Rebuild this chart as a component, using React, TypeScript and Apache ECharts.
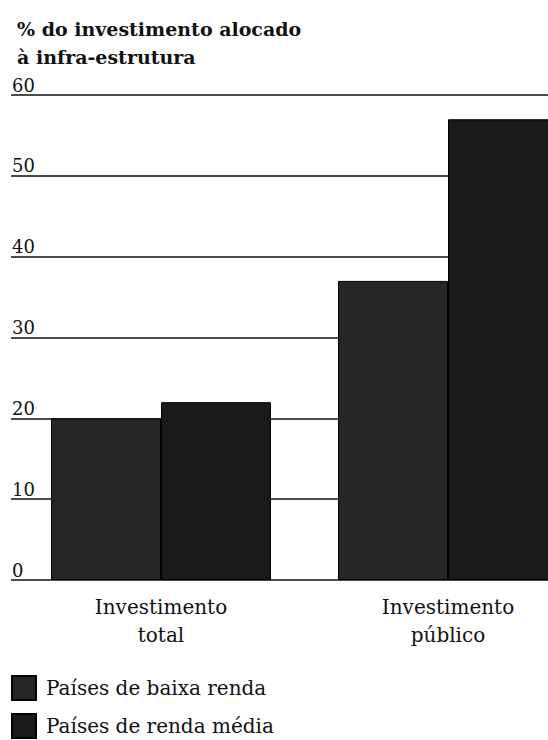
import React, { useEffect, useRef } from "react";
import * as echarts from "echarts";

// Share of investment allocated to infrastructure (%)
const categories = ["Investimento\ntotal", "Investimento\npúblico"];
const seriesNames = ["Países de baixa renda", "Países de renda média"];
const lowIncome = [20, 37];
const middleIncome = [22, 57];
const yTicks = [0, 10, 20, 30, 40, 50, 60];
const titleLines = ["% do investimento alocado", "à infra-estrutura"];

const FONT = "'DejaVu Serif', 'Liberation Serif', serif";
const INK = "#111111";
// The canvas runs past the visible page so the right-hand bar is cut by the edge.
const CANVAS_W = 600;
const PAGE_W = 548;

export default function App() {
  const ref = useRef<HTMLDivElement>(null);

  useEffect(() => {
    document.body.style.margin = "0";
    document.body.style.overflow = "hidden";
    document.documentElement.style.overflow = "hidden";
    if (!ref.current) return;
    const chart = echarts.init(ref.current, undefined, { renderer: "svg" });
    const yMax = yTicks[yTicks.length - 1];
    const step = yTicks[1] - yTicks[0];

    const legendItem = (name: string, top: number) => ({
      orient: "horizontal",
      left: 11,
      top,
      padding: 0,
      itemWidth: 24,
      itemHeight: 24,
      icon: "rect",
      selectedMode: false,
      data: [name],
      textStyle: {
        fontFamily: FONT,
        fontSize: 20,
        lineHeight: 24,
        color: INK,
        padding: [0, 0, 0, 5],
      },
    });

    chart.setOption({
      animation: false,
      backgroundColor: "#ffffff",
      title: {
        text: titleLines.join("\n"),
        left: 12,
        top: 10,
        textStyle: {
          fontFamily: FONT,
          fontSize: 19,
          fontWeight: "bold",
          color: INK,
          lineHeight: 28,
        },
      },
      legend: [legendItem(seriesNames[0], 675), legendItem(seriesNames[1], 713)],
      grid: [
        // frame carrying the horizontal rules and value labels
        { left: 11, right: CANVAS_W - PAGE_W, top: 95, bottom: 160 },
        // frame carrying the bars
        { left: 17.5, right: CANVAS_W - 591.5, top: 95, bottom: 160 },
      ],
      xAxis: [
        { type: "value", gridIndex: 0, show: false, min: 0, max: 1 },
        {
          type: "category",
          gridIndex: 1,
          data: categories,
          axisLine: { show: false },
          axisTick: { show: false },
          axisLabel: {
            fontFamily: FONT,
            fontSize: 20,
            color: INK,
            lineHeight: 28,
            margin: 13,
          },
        },
      ],
      yAxis: [
        {
          type: "value",
          gridIndex: 0,
          min: 0,
          max: yMax,
          interval: step,
          axisLine: { show: false },
          axisTick: { show: false },
          splitLine: { show: true, lineStyle: { color: INK, width: 1.6 } },
          axisLabel: {
            inside: true,
            margin: 1,
            verticalAlign: "bottom",
            padding: [0, 0, 1, 0],
            fontFamily: FONT,
            fontSize: 18,
            color: INK,
          },
        },
        {
          type: "value",
          gridIndex: 1,
          min: 0,
          max: yMax,
          interval: step,
          show: false,
          splitLine: { show: false },
        },
      ],
      series: [
        {
          name: seriesNames[0],
          type: "bar",
          xAxisIndex: 1,
          yAxisIndex: 1,
          data: lowIncome,
          barWidth: 110,
          barGap: "0%",
          itemStyle: { color: "#262626", borderColor: "#000000", borderWidth: 1 },
        },
        {
          name: seriesNames[1],
          type: "bar",
          xAxisIndex: 1,
          yAxisIndex: 1,
          data: middleIncome,
          barWidth: 110,
          barGap: "0%",
          itemStyle: { color: "#1a1a1a", borderColor: "#000000", borderWidth: 1 },
        },
      ],
    });

    return () => chart.dispose();
  }, []);

  return <div ref={ref} style={{ width: CANVAS_W, height: 740 }} />;
}
